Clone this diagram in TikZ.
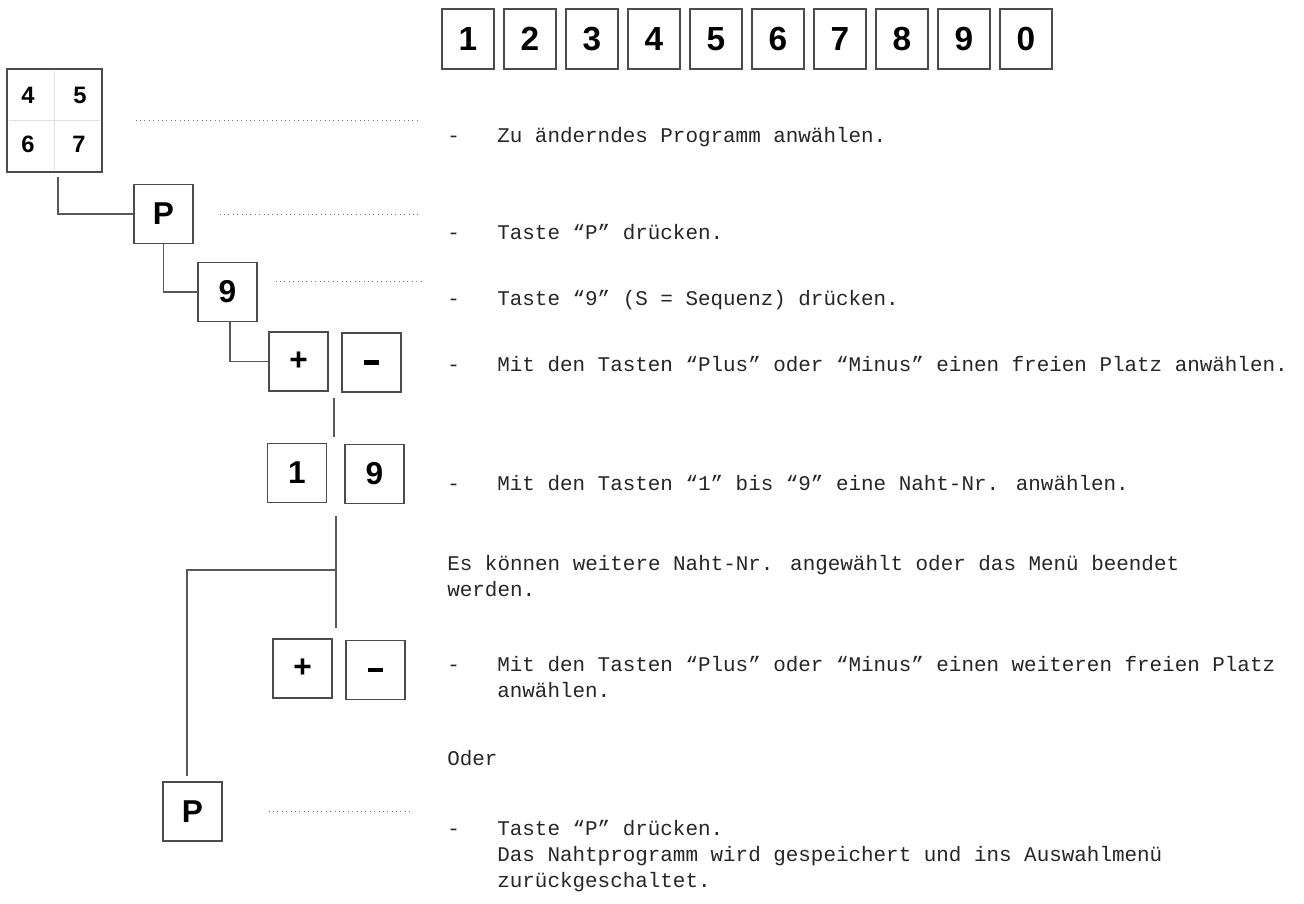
\documentclass[tikz,border=0pt]{standalone}
\usepackage{fontspec}
\newfontfamily\keyfnt{Liberation Sans}
\newfontfamily\txtfnt{Liberation Mono}
\usepackage{tikz}

\tikzset{
  taste/.style={draw=black!70, line width=0.8pt, fill=white, inner sep=0pt,
    minimum width=1.18cm, minimum height=1.18cm,
    font=\keyfnt\bfseries\fontsize{18}{18}\selectfont},
  toptaste/.style={taste, minimum width=1.04cm, minimum height=1.2cm,
    font=\keyfnt\bfseries\fontsize{19}{19}\selectfont},
  padnum/.style={inner sep=0pt, font=\keyfnt\bfseries\fontsize{13.5}{14}\selectfont},
  link/.style={draw=black!65, line width=0.7pt},
  leader/.style={draw=black!55, dotted, line width=0.5pt},
  txt/.style={anchor=base west, inner sep=0pt, align=left, text=black!85,
    font=\txtfnt\fontsize{11.9}{14.8}\selectfont}
}
\newcommand{\minusbar}{\rule{0.5em}{0.13em}}

\begin{document}
\begin{tikzpicture}[x=0.02cm, y=-0.02cm]
    \useasboundingbox (0,0) rectangle (1304,903);

    % Zifferntasten oben
    \foreach \d [count=\i from 0] in {1,2,3,4,5,6,7,8,9,0}
        \node[toptaste] (top\d) at (468+62*\i,39) {\d};

    % Tastenblock 4 5 6 7
    \node[draw=black!70, line width=0.8pt, minimum width=1.9cm, minimum height=2.06cm] (pad) at (54.5,120.5) {};
    \draw[black!12, line width=0.8pt] ([yshift=-0.06cm]pad.north) -- ([yshift=0.06cm]pad.south);
    \draw[black!12, line width=0.8pt] ([xshift=0.06cm]pad.west) -- ([xshift=-0.06cm]pad.east);
    \node[padnum] (pad4) at (28,95) {4};
    \node[padnum] (pad5) at (80,95) {5};
    \node[padnum] (pad6) at (28,144) {6};
    \node[padnum] (pad7) at (79,144) {7};

    % Tasten
    \node[taste] (pfirst) at (163.5,214) {P};
    \node[taste] (nine) at (227.5,292) {9};
    \node[taste] (plusA) at (298.5,361.5) {+};
    \node[taste] (minusA) at (371.5,362.5) {\minusbar};
    \node[taste] (one) at (297,473) {1};
    \node[taste] (nineB) at (374.5,474) {9};
    \node[taste] (plusB) at (302.5,668.5) {+};
    \node[taste] (minusB) at (375.5,670) {\minusbar};
    \node[taste] (plast) at (192.5,811.5) {P};

    % Verbindungen
    \draw[link] ([xshift=0.07cm,yshift=-0.08cm]pad.south) |- (pfirst.west);
    \draw[link] (pfirst.south) |- (nine.west);
    \draw[link] ([xshift=0.05cm]nine.south) |- (plusA.west);
    \coordinate (gapA) at (334,398);
    \coordinate (gapB) at (334,437);
    \draw[link] (gapA) -- (gapB);
    \coordinate (forkTop) at (336,516);
    \coordinate (fork) at (336,570);
    \coordinate (forkEnd) at (336,628);
    \draw[link] (forkTop) -- (forkEnd);
    \draw[link] (fork) -| ([xshift=-0.11cm,yshift=0.1cm]plast.north);

    % Punktlinien
    \draw[leader] ([xshift=0.66cm]pad.east) -- ++(285,0);
    \draw[leader] ([xshift=0.52cm]pfirst.east) -- ++(201,0);
    \draw[leader] ([xshift=0.36cm,yshift=0.22cm]nine.east) -- ++(145,0);
    \draw[leader] ([xshift=0.92cm]plast.east) -- ++(142,0);

    % Texte (mehrzeilig: Grundlinie der letzten Zeile)
    \node[txt] (d1) at (447,142) {-};
    \node[txt] (s1) at (497,142) {Zu änderndes Programm anwählen.};
    \node[txt] (d2) at (447,239) {-};
    \node[txt] (s2) at (497,239) {Taste “P” drücken.};
    \node[txt] (d3) at (447,305) {-};
    \node[txt] (s3) at (497,305) {Taste “9” (S = Sequenz) drücken.};
    \node[txt] (d4) at (447,371) {-};
    \node[txt] (s4) at (497,371) {Mit den Tasten “Plus” oder “Minus” einen freien Platz anwählen.};
    \node[txt] (d5) at (447,490) {-};
    \node[txt] (s5) at (497,490) {Mit den Tasten “1” bis “9” eine Naht-Nr. anwählen.};
    \node[txt] (s6) at (447,596) {Es können weitere Naht-Nr. angewählt oder das Menü beendet\\werden.};
    \node[txt] (d7) at (447,671) {-};
    \node[txt] (s7) at (497,697) {Mit den Tasten “Plus” oder “Minus” einen weiteren freien Platz\\anwählen.};
    \node[txt] (s8) at (447,765) {Oder};
    \node[txt] (d9) at (447,835) {-};
    \node[txt] (s9) at (497,887) {Taste “P” drücken.\\Das Nahtprogramm wird gespeichert und ins Auswahlmenü\\zurückgeschaltet.};
\end{tikzpicture}
\end{document}
